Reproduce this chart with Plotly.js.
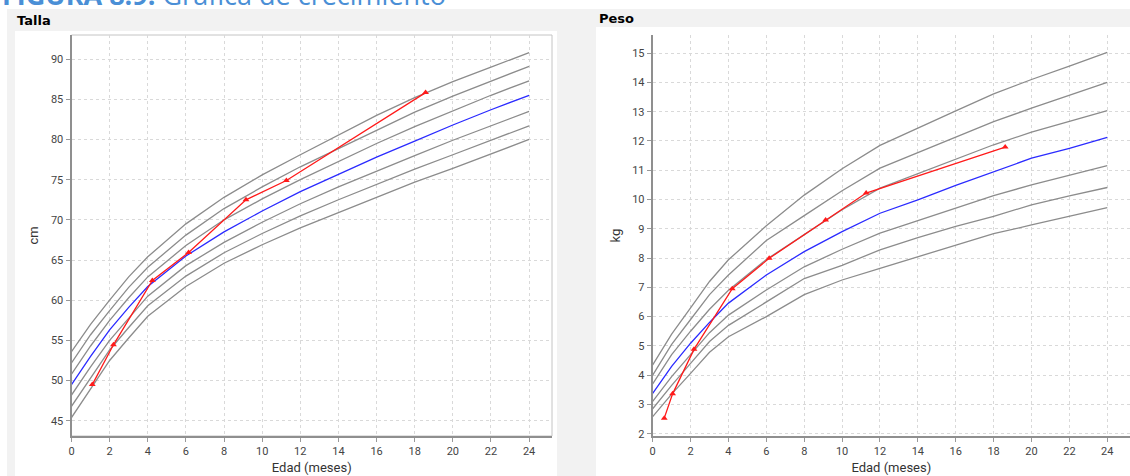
<!DOCTYPE html>
<html>
<head>
<meta charset="utf-8">
<script src="https://cdn.plot.ly/plotly-3.0.1.min.js"></script>
<style>html,body{margin:0;padding:0;background:#fff;}#chart{width:1130px;height:476px;}</style>
</head>
<body>
<div id="chart"></div>
<script>
// ---------- Talla (length, cm) ----------
const tallaMonths = [0, 1, 2, 3, 4, 6, 8, 10, 12, 14, 16, 18, 20, 22, 24];
const tallaP3up = [53.6, 57.0, 60.0, 62.9, 65.4, 69.5, 72.8, 75.6, 78.1, 80.6, 83.0, 85.2, 87.2, 89.0, 90.8];
const tallaP2up = [52.2, 55.7, 58.7, 61.6, 64.1, 68.1, 71.4, 74.1, 76.6, 78.9, 81.2, 83.4, 85.4, 87.3, 89.1];
const tallaP1up = [50.8, 54.3, 57.5, 60.3, 62.9, 66.8, 70.0, 72.6, 75.0, 77.3, 79.5, 81.6, 83.6, 85.5, 87.3];
const tallaMedian = [49.5, 53.0, 56.3, 59.1, 61.7, 65.5, 68.5, 71.1, 73.5, 75.7, 77.8, 79.8, 81.8, 83.7, 85.5];
const tallaP1dn = [48.2, 51.7, 55.0, 57.8, 60.5, 64.3, 67.2, 69.7, 72.0, 74.1, 76.1, 78.0, 79.9, 81.7, 83.5];
const tallaP2dn = [46.8, 50.3, 53.8, 56.6, 59.3, 63.0, 65.9, 68.3, 70.5, 72.5, 74.4, 76.3, 78.1, 79.9, 81.7];
const tallaP3dn = [45.4, 49.0, 52.5, 55.3, 58.0, 61.7, 64.6, 66.9, 69.0, 70.9, 72.8, 74.7, 76.4, 78.2, 80.0];
const tallaPatientX = [1.09, 2.2, 4.24, 6.14, 9.15, 11.27, 18.57];
const tallaPatientY = [49.5, 54.45, 62.45, 65.93, 72.49, 74.89, 85.83];

// ---------- Peso (weight, kg) ----------
const pesoMonths = [0, 1, 2, 3, 4, 6, 8, 10, 12, 14, 16, 18, 20, 22, 24];
const pesoP3up = [4.35, 5.4, 6.3, 7.2, 7.94, 9.1, 10.15, 11.05, 11.85, 12.45, 13.03, 13.61, 14.1, 14.56, 15.03];
const pesoP2up = [4.0, 5.05, 5.9, 6.75, 7.42, 8.6, 9.45, 10.3, 11.07, 11.6, 12.12, 12.66, 13.12, 13.57, 14.0];
const pesoP1up = [3.7, 4.7, 5.5, 6.25, 6.9, 7.95, 8.8, 9.65, 10.39, 10.88, 11.38, 11.87, 12.3, 12.68, 13.04];
const pesoMedian = [3.38, 4.3, 5.09, 5.8, 6.46, 7.42, 8.22, 8.9, 9.53, 9.99, 10.48, 10.95, 11.41, 11.75, 12.12];
const pesoP1dn = [3.1, 3.95, 4.7, 5.45, 6.05, 6.91, 7.7, 8.3, 8.85, 9.28, 9.72, 10.13, 10.5, 10.84, 11.16];
const pesoP2dn = [2.85, 3.65, 4.4, 5.15, 5.7, 6.51, 7.3, 7.75, 8.28, 8.7, 9.08, 9.42, 9.82, 10.12, 10.41];
const pesoP3dn = [2.58, 3.35, 4.06, 4.78, 5.31, 6.0, 6.75, 7.25, 7.65, 8.05, 8.43, 8.83, 9.13, 9.42, 9.72];
const pesoPatientX = [0.61, 1.05, 2.18, 4.2, 6.15, 9.13, 11.27, 18.61];
const pesoPatientY = [2.53, 3.36, 4.88, 6.95, 7.99, 9.3, 10.22, 11.79];

const xTicks = [0, 2, 4, 6, 8, 10, 12, 14, 16, 18, 20, 22, 24];
const tallaTicks = [45, 50, 55, 60, 65, 70, 75, 80, 85, 90];
const pesoTicks = [2, 3, 4, 5, 6, 7, 8, 9, 10, 11, 12, 13, 14, 15];

const GRAY = '#8c8c8c', BLUE = '#2b2bff', RED = '#ff1a1a';

function curve(x, y, color, xa, ya) {
  return {x: x, y: y, type: 'scatter', mode: 'lines', xaxis: xa, yaxis: ya,
          line: {color: color, width: 1.3}, hoverinfo: 'skip', showlegend: false};
}
function patient(x, y, xa, ya) {
  return {x: x, y: y, type: 'scatter', mode: 'lines+markers', xaxis: xa, yaxis: ya,
          line: {color: RED, width: 1.3}, marker: {symbol: 'triangle-up', size: 6, color: RED},
          showlegend: false};
}

const traces = [
  curve(tallaMonths, tallaP3up, GRAY, 'x', 'y'),
  curve(tallaMonths, tallaP2up, GRAY, 'x', 'y'),
  curve(tallaMonths, tallaP1up, GRAY, 'x', 'y'),
  curve(tallaMonths, tallaP1dn, GRAY, 'x', 'y'),
  curve(tallaMonths, tallaP2dn, GRAY, 'x', 'y'),
  curve(tallaMonths, tallaP3dn, GRAY, 'x', 'y'),
  curve(tallaMonths, tallaMedian, BLUE, 'x', 'y'),
  patient(tallaPatientX, tallaPatientY, 'x', 'y'),
  curve(pesoMonths, pesoP3up, GRAY, 'x2', 'y2'),
  curve(pesoMonths, pesoP2up, GRAY, 'x2', 'y2'),
  curve(pesoMonths, pesoP1up, GRAY, 'x2', 'y2'),
  curve(pesoMonths, pesoP1dn, GRAY, 'x2', 'y2'),
  curve(pesoMonths, pesoP2dn, GRAY, 'x2', 'y2'),
  curve(pesoMonths, pesoP3dn, GRAY, 'x2', 'y2'),
  curve(pesoMonths, pesoMedian, BLUE, 'x2', 'y2'),
  patient(pesoPatientX, pesoPatientY, 'x2', 'y2')
];

const W = 1130, H = 476;
const px = v => v / W;             // paper x from pixel
const py = v => 1 - v / H;         // paper y from pixel (top-based)

function xAxis(domain, anchor) {
  return {domain: domain, anchor: anchor, range: [0, 25.2], tickvals: xTicks,
    ticks: 'outside', ticklen: 4, tickcolor: '#999', tickwidth: 1,
    showgrid: true, gridcolor: '#d9d9d9', griddash: 'dot', gridwidth: 1,
    showline: true, linecolor: '#8f8f8f', linewidth: 2, mirror: false,
    zeroline: false, tickfont: {family: 'Roboto, sans-serif', size: 11, color: '#444'},
    title: {text: 'Edad (meses)', font: {family: 'Roboto, sans-serif', size: 13, color: '#333'}, standoff: 6}};
}
function yAxis(domain, anchor, range, ticks, label) {
  return {domain: domain, anchor: anchor, range: range, tickvals: ticks,
    ticks: 'outside', ticklen: 4, tickcolor: '#999', tickwidth: 1,
    showgrid: true, gridcolor: '#d9d9d9', griddash: 'dot', gridwidth: 1,
    showline: true, linecolor: '#8f8f8f', linewidth: 2, mirror: false,
    zeroline: false, tickfont: {family: 'Roboto, sans-serif', size: 11, color: '#444'},
    title: {text: label, font: {family: 'Roboto, sans-serif', size: 13, color: '#333'}, standoff: 9}};
}

const yDom = [py(436), py(35)];
const layout = {
  width: W, height: H,
  margin: {l: 0, r: 0, t: 0, b: 0},
  paper_bgcolor: '#ffffff', plot_bgcolor: 'rgba(0,0,0,0)',
  showlegend: false,
  xaxis: xAxis([px(71.5), px(552)], 'y'),
  yaxis: yAxis(yDom, 'x', [43.1, 93.0], tallaTicks, 'cm'),
  xaxis2: xAxis([px(652.7), 1], 'y2'),
  yaxis2: yAxis(yDom, 'x2', [1.92, 15.62], pesoTicks, 'kg'),
  shapes: [
    {type: 'rect', xref: 'paper', yref: 'paper', x0: px(7), x1: 1, y0: 0, y1: py(9), fillcolor: '#f2f2f2', line: {width: 0}, layer: 'below'},
    {type: 'rect', xref: 'paper', yref: 'paper', x0: px(15), x1: px(557), y0: 0, y1: py(31), fillcolor: '#ffffff', line: {width: 0}, layer: 'below'},
    {type: 'rect', xref: 'paper', yref: 'paper', x0: px(596), x1: 1, y0: 0, y1: py(27), fillcolor: '#ffffff', line: {width: 0}, layer: 'below'},
    {type: 'rect', xref: 'paper', yref: 'paper', x0: px(71.5), x1: px(552), y0: py(436), y1: py(35), fillcolor: 'rgba(0,0,0,0)', line: {width: 1, color: '#c4c4c4'}, layer: 'below'}
  ],
  annotations: [
    {xref: 'paper', yref: 'paper', x: px(15), y: py(21), xanchor: 'left', yanchor: 'middle', showarrow: false,
     text: '<b>Talla</b>', font: {family: 'DejaVu Sans, sans-serif', size: 13, color: '#000'}},
    {xref: 'paper', yref: 'paper', x: px(597), y: py(19), xanchor: 'left', yanchor: 'middle', showarrow: false,
     text: '<b>Peso</b>', font: {family: 'DejaVu Sans, sans-serif', size: 13, color: '#000'}},
    {xref: 'paper', yref: 'paper', x: 0, y: py(15), xanchor: 'left', yanchor: 'bottom', showarrow: false,
     text: '<b>FIGURA 8.9.</b> Gráfica de crecimiento',
     font: {family: 'Open Sans, sans-serif', size: 27, color: '#4a8fd6'}}
  ]
};

Plotly.newPlot('chart', traces, layout, {staticPlot: true, displayModeBar: false});
</script>
</body>
</html>
